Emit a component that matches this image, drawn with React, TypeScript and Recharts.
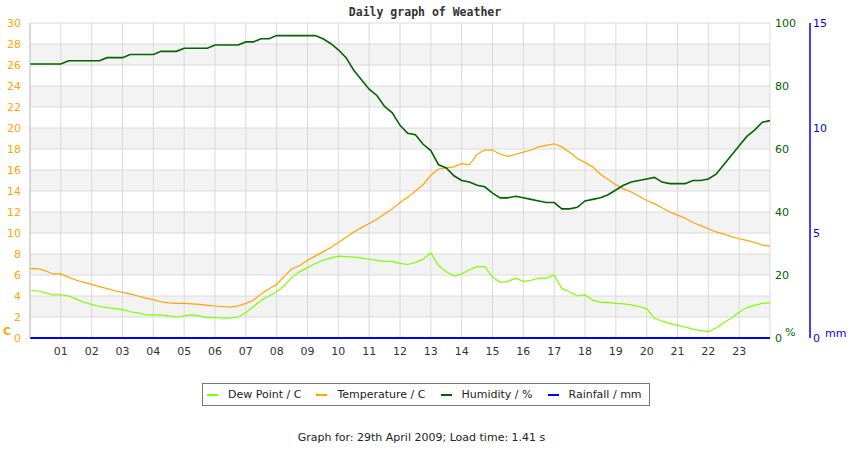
import { CartesianGrid, ComposedChart, Line, XAxis, YAxis } from "recharts";

// time of day in hours, one reading every 15 minutes
const hours = [
    0, 0.25, 0.5, 0.75, 1, 1.25, 1.5, 1.75, 2, 2.25, 2.5, 2.75,
    3, 3.25, 3.5, 3.75, 4, 4.25, 4.5, 4.75, 5, 5.25, 5.5, 5.75,
    6, 6.25, 6.5, 6.75, 7, 7.25, 7.5, 7.75, 8, 8.25, 8.5, 8.75,
    9, 9.25, 9.5, 9.75, 10, 10.25, 10.5, 10.75, 11, 11.25, 11.5, 11.75,
    12, 12.25, 12.5, 12.75, 13, 13.25, 13.5, 13.75, 14, 14.25, 14.5, 14.75,
    15, 15.25, 15.5, 15.75, 16, 16.25, 16.5, 16.75, 17, 17.25, 17.5, 17.75,
    18, 18.25, 18.5, 18.75, 19, 19.25, 19.5, 19.75, 20, 20.25, 20.5, 20.75,
    21, 21.25, 21.5, 21.75, 22, 22.25, 22.5, 22.75, 23, 23.25, 23.5, 23.75,
    24,
];

const temperature = [
    6.6, 6.6, 6.4, 6.1, 6.1, 5.8, 5.5, 5.3, 5.1, 4.9, 4.7, 4.5,
    4.35, 4.2, 4.0, 3.8, 3.65, 3.45, 3.35, 3.3, 3.3, 3.25, 3.2, 3.1,
    3.05, 3.0, 2.95, 3.05, 3.3, 3.6, 4.2, 4.7, 5.1, 5.9, 6.6, 6.9,
    7.4, 7.8, 8.2, 8.6, 9.1, 9.6, 10.1, 10.5, 10.9, 11.3, 11.8, 12.3,
    12.9, 13.4, 14.0, 14.6, 15.5, 16.1, 16.2, 16.3, 16.6, 16.5, 17.5, 17.9,
    17.9, 17.5, 17.3, 17.5, 17.7, 17.9, 18.2, 18.35, 18.5, 18.2, 17.7, 17.1,
    16.7, 16.3, 15.6, 15.1, 14.6, 14.2, 13.9, 13.5, 13.1, 12.8, 12.4, 12.0,
    11.7, 11.4, 11.0, 10.7, 10.4, 10.1, 9.9, 9.65, 9.45, 9.3, 9.1, 8.85,
    8.75,
];

const dewPoint = [
    4.5, 4.5, 4.3, 4.1, 4.1, 4.0, 3.7, 3.4, 3.2, 3.0, 2.9, 2.8,
    2.7, 2.5, 2.4, 2.2, 2.2, 2.2, 2.1, 2.0, 2.1, 2.2, 2.1, 1.95,
    1.95, 1.9, 1.9, 2.0, 2.4, 3.0, 3.6, 4.0, 4.4, 5.0, 5.8, 6.3,
    6.7, 7.1, 7.4, 7.6, 7.8, 7.75, 7.7, 7.6, 7.5, 7.4, 7.3, 7.3,
    7.1, 7.0, 7.2, 7.5, 8.1, 6.9, 6.3, 5.9, 6.1, 6.5, 6.8, 6.8,
    5.8, 5.3, 5.4, 5.7, 5.4, 5.5, 5.7, 5.7, 6.0, 4.7, 4.4, 4.0,
    4.1, 3.6, 3.4, 3.4, 3.3, 3.25, 3.15, 3.0, 2.8, 1.9, 1.6, 1.4,
    1.2, 1.05, 0.85, 0.7, 0.6, 0.95, 1.45, 1.9, 2.45, 2.9, 3.1, 3.3,
    3.35,
];

const humidity = [
    87, 87, 87, 87, 87, 88, 88, 88, 88, 88, 89, 89,
    89, 90, 90, 90, 90, 91, 91, 91, 92, 92, 92, 92,
    93, 93, 93, 93, 94, 94, 95, 95, 96, 96, 96, 96,
    96, 96, 95, 93.5, 91.5, 89, 85, 82, 79, 77, 73.5, 71.5,
    67.5, 65, 64.5, 61.5, 59.5, 55, 54, 51.5, 50, 49.5, 48.5, 48,
    46, 44.5, 44.5, 45, 44.5, 44, 43.5, 43, 43, 41, 41, 41.5,
    43.5, 44, 44.5, 45.5, 47, 48.5, 49.5, 50, 50.5, 51, 49.5, 49,
    49, 49, 50, 50, 50.5, 52, 55, 58, 61, 64, 66, 68.5,
    69,
];

const rainfall = [
    0, 0, 0, 0, 0, 0, 0, 0, 0, 0, 0, 0,
    0, 0, 0, 0, 0, 0, 0, 0, 0, 0, 0, 0,
    0, 0, 0, 0, 0, 0, 0, 0, 0, 0, 0, 0,
    0, 0, 0, 0, 0, 0, 0, 0, 0, 0, 0, 0,
    0, 0, 0, 0, 0, 0, 0, 0, 0, 0, 0, 0,
    0, 0, 0, 0, 0, 0, 0, 0, 0, 0, 0, 0,
    0, 0, 0, 0, 0, 0, 0, 0, 0, 0, 0, 0,
    0, 0, 0, 0, 0, 0, 0, 0, 0, 0, 0, 0,
    0,
];

const hourTicks = [0, 1, 2, 3, 4, 5, 6, 7, 8, 9, 10, 11, 12, 13, 14, 15, 16, 17, 18, 19, 20, 21, 22, 23, 24];
const tempTicks = [0, 2, 4, 6, 8, 10, 12, 14, 16, 18, 20, 22, 24, 26, 28, 30];
const humidityTicks = [0, 20, 40, 60, 80, 100];
const rainTicks = [0, 5, 10, 15];

const legendItems = [
    { label: "Dew Point / C", color: "#80ff00" },
    { label: "Temperature / C", color: "#ffa500" },
    { label: "Humidity / %", color: "#006400" },
    { label: "Rainfall / mm", color: "#0000ff" },
];

const ORANGE = "#ffa500";
const GREEN = "#006400";
const BLUE = "#0000ff";
const FONT = "'DejaVu Sans', sans-serif";

const hourLabel = (value: number) => (value <= 0 || value >= 24 ? "" : String(value).padStart(2, "0"));

export default function App() {
    const chartData = hours.map((t, i) => ({
        t,
        dewPoint: dewPoint[i],
        temperature: temperature[i],
        humidity: humidity[i],
        rainfall: rainfall[i],
    }));

    return (
        <div style={{ position: "absolute", left: 0, top: 0, width: 850, height: 450, background: "#fff", fontFamily: FONT }}>
            <div
                style={{
                    position: "absolute",
                    top: 5,
                    left: 0,
                    width: 850,
                    textAlign: "center",
                    fontFamily: "'DejaVu Sans Mono', monospace",
                    fontWeight: "bold",
                    fontSize: 11.5,
                    color: "#333",
                }}
            >
                Daily graph of Weather
            </div>

            <ComposedChart width={850} height={450} data={chartData} margin={{ top: 23, right: 0, bottom: 82, left: 0 }}>
                <CartesianGrid
                    yAxisId="temp"
                    stroke="#dadada"
                    horizontalFill={["#ffffff", "#f3f3f3"]}
                    fillOpacity={1}
                />
                <XAxis
                    dataKey="t"
                    type="number"
                    domain={[0, 24]}
                    ticks={hourTicks}
                    interval={0}
                    tickFormatter={hourLabel}
                    axisLine={false}
                    tickLine={false}
                    tickSize={6}
                    tickMargin={3}
                    height={30}
                    tick={{ fill: "#333", fontSize: 11, fontFamily: FONT }}
                />
                <YAxis
                    yAxisId="temp"
                    domain={[0, 30]}
                    ticks={tempTicks}
                    interval={0}
                    width={30}
                    axisLine={{ stroke: "#c4c4c4" }}
                    tickLine={false}
                    tickSize={6}
                    tickMargin={3}
                    tick={{ fill: ORANGE, fontSize: 11, fontFamily: FONT }}
                />
                <YAxis
                    yAxisId="hum"
                    orientation="right"
                    domain={[0, 100]}
                    ticks={humidityTicks}
                    interval={0}
                    width={40}
                    axisLine={false}
                    tickLine={false}
                    tickSize={3}
                    tickMargin={2}
                    tick={{ fill: GREEN, fontSize: 11, fontFamily: FONT }}
                />
                <YAxis
                    yAxisId="rain"
                    orientation="right"
                    domain={[0, 15]}
                    ticks={rainTicks}
                    interval={0}
                    width={40}
                    axisLine={{ stroke: BLUE, strokeWidth: 1.5 }}
                    tickLine={false}
                    tickSize={0}
                    tickMargin={3}
                    tick={{ fill: BLUE, fontSize: 11, fontFamily: FONT }}
                />
                <Line yAxisId="temp" type="linear" dataKey="dewPoint" stroke="#80ff00" strokeWidth={1.2} dot={false} isAnimationActive={false} />
                <Line yAxisId="temp" type="linear" dataKey="temperature" stroke={ORANGE} strokeWidth={1.2} dot={false} isAnimationActive={false} />
                <Line yAxisId="hum" type="linear" dataKey="humidity" stroke={GREEN} strokeWidth={1.6} dot={false} isAnimationActive={false} />
                <Line yAxisId="rain" type="linear" dataKey="rainfall" stroke={BLUE} strokeWidth={2} dot={false} isAnimationActive={false} />
            </ComposedChart>

            <div style={{ position: "absolute", left: 3, top: 325, color: ORANGE, fontWeight: "bold", fontSize: 11 }}>C</div>
            <div style={{ position: "absolute", left: 785, top: 326, color: GREEN, fontSize: 11 }}>%</div>
            <div style={{ position: "absolute", left: 825, top: 327, color: BLUE, fontSize: 11 }}>mm</div>

            <div
                style={{
                    position: "absolute",
                    left: 202,
                    top: 383,
                    width: 448,
                    height: 23,
                    border: "1px solid #777",
                    display: "flex",
                    alignItems: "center",
                    paddingLeft: 4,
                    boxSizing: "border-box",
                    fontSize: 11,
                    color: "#222",
                    whiteSpace: "nowrap",
                }}
            >
                {legendItems.map((item) => (
                    <div key={item.label} style={{ display: "flex", alignItems: "center", marginRight: 15, flexShrink: 0 }}>
                        <span style={{ display: "inline-block", width: 11, height: 2, background: item.color, marginRight: 10 }} />
                        <span>{item.label}</span>
                    </div>
                ))}
            </div>

            <div style={{ position: "absolute", left: 0, top: 431, width: 843, textAlign: "center", fontSize: 11, color: "#222" }}>
                Graph for: 29th April 2009; Load time: 1.41 s
            </div>
        </div>
    );
}
